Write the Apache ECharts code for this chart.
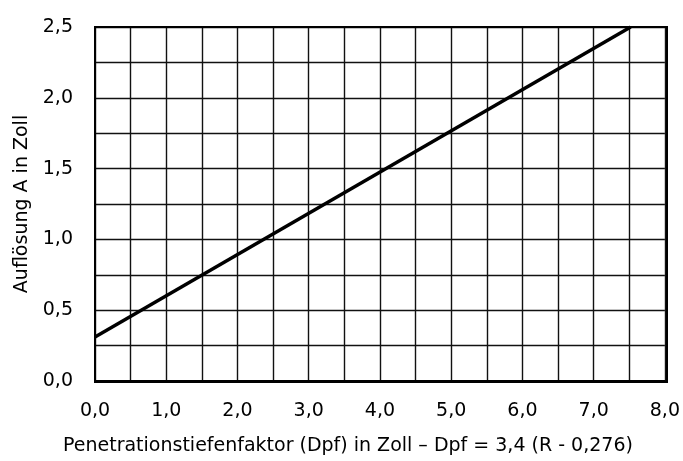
<!DOCTYPE html>
<html>
<head>
<meta charset="utf-8">
<script src="https://cdn.jsdelivr.net/npm/echarts@6/dist/echarts.min.js"></script>
<style>
  html, body { margin: 0; padding: 0; background: #fff; }
  #chart { width: 683px; height: 461px; }
</style>
</head>
<body>
<div id="chart"></div>
<script>
// Werte
let xRange = [0, 8];
let yRange = [0, 2.5];
let linePoints = [[0, 0.31], [7.52, 2.5]];
let xName = 'Penetrationstiefenfaktor (Dpf) in Zoll \u2013 Dpf = 3,4 (R - 0,276)';
let yName = 'Aufl\u00f6sung A in Zoll';

let font = 'DejaVu Sans';

let fmt = function (v, step) {
    // nur jede zweite Linie beschriften, Komma als Dezimaltrenner
    if (Math.abs(v / step - Math.round(v / step)) > 1e-6) return '';
    return v.toFixed(1).replace('.', ',');
};

let myChart = echarts.init(document.getElementById('chart'));
let option = {
    animation: false,
    grid: { left: 95, right: 16, top: 27, bottom: 79 },
    xAxis: {
        type: 'value',
        min: xRange[0],
        max: xRange[1],
        interval: 0.5,
        name: xName,
        nameLocation: 'middle',
        nameGap: 56,
        nameTextStyle: { fontFamily: font, fontSize: 19, color: '#000', padding: [0, 64, 0, 0] },
        axisLine: { show: true, lineStyle: { color: '#000', width: 2 } },
        axisTick: { show: false },
        axisLabel: {
            margin: 21,
            fontFamily: font,
            fontSize: 19,
            color: '#000',
            formatter: function (v) { return fmt(v, 1); }
        },
        splitLine: { show: true, lineStyle: { color: '#111', width: 1.4 } }
    },
    yAxis: {
        type: 'value',
        min: yRange[0],
        max: yRange[1],
        interval: 0.25,
        name: yName,
        nameLocation: 'middle',
        nameGap: 62,
        nameTextStyle: { fontFamily: font, fontSize: 19, color: '#000' },
        axisLine: { show: true, lineStyle: { color: '#000', width: 2 } },
        axisTick: { show: false },
        axisLabel: {
            margin: 22,
            fontFamily: font,
            fontSize: 19,
            color: '#000',
            formatter: function (v) { return fmt(v, 0.5); }
        },
        splitLine: { show: true, lineStyle: { color: '#111', width: 1.4 } }
    },
    series: [{
        type: 'line',
        symbol: 'none',
        data: linePoints,
        lineStyle: { color: '#000', width: 3.5 }
    }],
    graphic: [{
        type: 'rect',
        shape: { x: 95, y: 27, width: 572, height: 355 },
        style: { fill: 'none', stroke: '#000', lineWidth: 2 },
        z: 10
    }]
};
myChart.setOption(option);
</script>
</body>
</html>
